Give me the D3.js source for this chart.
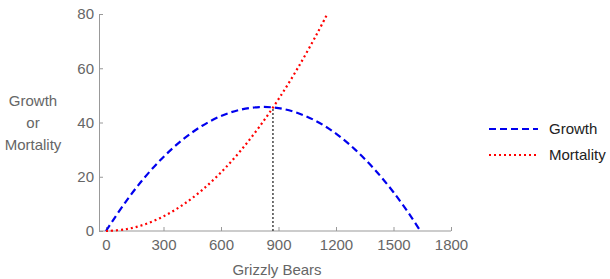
<!DOCTYPE html>
<html>
<head>
<meta charset="utf-8">
<title>Grizzly bears growth and mortality</title>
<script src="https://d3js.org/d3.v7.min.js"></script>
<style>
  body { margin: 0; background: #fff; }
  text { font-family: "Liberation Sans", Arial, sans-serif; }
</style>
</head>
<body>
<script>
// values
var growthBears = [0, 100, 200, 300, 400, 500, 600, 700, 800, 900, 1000, 1100, 1200, 1300, 1400, 1500, 1600, 1640];
var growthValues = [0, 10.5, 19.6, 27.3, 33.7, 38.7, 42.4, 44.7, 45.7, 45.3, 43.5, 40.4, 35.9, 30.0, 22.8, 14.3, 4.4, 0];
var mortalityBears = [0, 100, 200, 300, 400, 500, 600, 700, 800, 900, 1000, 1100, 1150];
var mortalityValues = [0, 0.6, 2.4, 5.4, 9.6, 15.0, 21.6, 29.4, 38.4, 48.6, 60.0, 72.6, 79.4];
var xTicks = [0, 300, 600, 900, 1200, 1500, 1800];
var yTicks = [0, 20, 40, 60, 80];
var equilibrium = [871, 45.5];
var seriesNames = ["Growth", "Mortality"];

var width = 610, height = 279;
var fontSize = "15px";

var svg = d3.select("body").append("svg")
  .attr("width", width)
  .attr("height", height);

var x = d3.scaleLinear().domain([0, 1800]).range([106, 451]);
var y = d3.scaleLinear().domain([0, 80]).range([231, 14]);

var axisColor = "#999", labelColor = "#666";

// x axis
var gx = svg.append("g")
  .attr("transform", "translate(0," + y(0) + ")")
  .call(d3.axisBottom(x).tickValues(xTicks).tickFormat(d3.format("d"))
    .tickSizeInner(-4).tickSizeOuter(0).tickPadding(8));
gx.select(".domain").remove();
gx.append("line")
  .attr("x1", 99).attr("x2", x(1800))
  .attr("stroke", axisColor);

// y axis
var gy = svg.append("g")
  .attr("transform", "translate(99,0)")
  .call(d3.axisLeft(y).tickValues(yTicks).tickSizeInner(-4).tickSizeOuter(0).tickPadding(5));

svg.selectAll(".domain").attr("stroke", axisColor);
svg.selectAll(".tick line").attr("stroke", axisColor);
svg.selectAll(".tick text")
  .attr("fill", labelColor)
  .style("font-size", fontSize)
  .style("font-family", "'Liberation Sans', Arial, sans-serif");

// axis titles
svg.append("text")
  .attr("x", 277).attr("y", 275)
  .attr("text-anchor", "middle")
  .attr("fill", labelColor)
  .style("font-size", fontSize)
  .text("Grizzly Bears");

var yTitle = svg.append("text")
  .attr("text-anchor", "middle")
  .attr("fill", labelColor)
  .style("font-size", fontSize);
["Growth", "or", "Mortality"].forEach(function(w, i) {
  yTitle.append("tspan").attr("x", 33).attr("y", 106 + i * 22).text(w);
});

// curves
var line = d3.line()
  .x(function(d) { return x(d[0]); })
  .y(function(d) { return y(d[1]); })
  .curve(d3.curveCatmullRom);

var growth = growthBears.map(function(b, i) { return [b, growthValues[i]]; });
var mortality = mortalityBears.map(function(b, i) { return [b, mortalityValues[i]]; });

// equilibrium marker
svg.append("line")
  .attr("x1", x(equilibrium[0])).attr("x2", x(equilibrium[0]))
  .attr("y1", y(0)).attr("y2", y(equilibrium[1]))
  .attr("stroke", "#444")
  .attr("stroke-width", 1.5)
  .attr("stroke-dasharray", "2,2");

svg.append("path")
  .datum(growth)
  .attr("d", line)
  .attr("fill", "none")
  .attr("stroke", "#0000ee")
  .attr("stroke-width", 2.2)
  .attr("stroke-dasharray", "7,4");

svg.append("path")
  .datum(mortality)
  .attr("d", line)
  .attr("fill", "none")
  .attr("stroke", "#ff0000")
  .attr("stroke-width", 2.2)
  .attr("stroke-dasharray", "2,3");

// legend
var legendStyles = [
  { color: "#0000ee", dash: "7,4" },
  { color: "#ff0000", dash: "2,3" }
];
var legend = svg.append("g");
seriesNames.forEach(function(name, i) {
  var ly = 129 + i * 26;
  legend.append("line")
    .attr("x1", 489).attr("x2", 538)
    .attr("y1", ly).attr("y2", ly)
    .attr("stroke", legendStyles[i].color)
    .attr("stroke-width", 2.2)
    .attr("stroke-dasharray", legendStyles[i].dash);
  legend.append("text")
    .attr("x", 549).attr("y", ly + 5)
    .attr("fill", "#222")
    .style("font-size", fontSize)
    .text(name);
});
</script>
</body>
</html>
